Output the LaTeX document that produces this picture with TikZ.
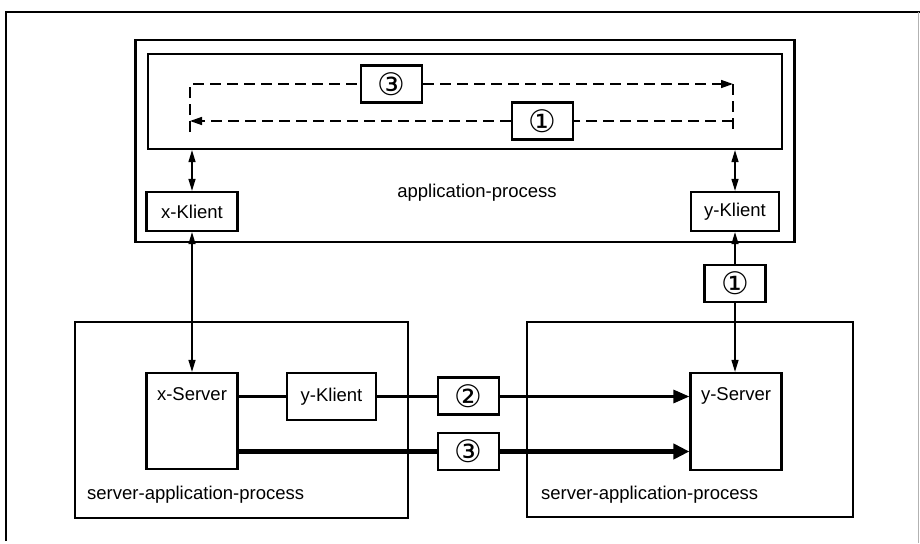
\documentclass[tikz,border=0pt]{standalone}
\usepackage{fontspec}
\setmainfont{Liberation Sans}
\newfontfamily\circfont{DejaVu Sans}
\usetikzlibrary{arrows.meta, positioning, calc}

\begin{document}
\begin{tikzpicture}[
  x=1pt, y=-1pt,
  box/.style={rectangle, draw, line width=2.2pt, fill=white, inner sep=0pt, font=\fontsize{18.5}{20}\selectfont},
  proc/.style={rectangle, draw, line width=2.5pt, inner sep=0pt},
  numbox/.style={box, minimum width=61pt, minimum height=37pt, font=\circfont\fontsize{31}{32}\selectfont},
  txt/.style={inner sep=0pt, font=\fontsize{18.5}{20}\selectfont},
  dashline/.style={line width=1.5pt, dash pattern=on 11pt off 6pt},
  dasharrow/.style={dashline, -{Triangle[length=12pt, width=8pt]}},
  biarrow/.style={{Triangle[length=12pt, width=7pt]}-{Triangle[length=12pt, width=7pt]}, line width=1.3pt},
  arrow/.style={-{Triangle[length=12pt, width=7pt]}, line width=1.3pt},
  linktwo/.style={line width=3pt},
  linkthree/.style={line width=5pt},
  arrowtwo/.style={linktwo, -{Triangle[length=16pt, width=13pt]}},
  arrowthree/.style={linkthree, -{Triangle[length=16pt, width=15pt]}}
]
  \useasboundingbox (0,0) rectangle (920,543);

  % frame
  \draw[line width=2.2pt] (6,541) -- (6,12) -- (930,12);
  \draw[line width=0.8pt, black!30] (918,12) -- (918,543);

  % application-process
  \node[proc, minimum width=659pt, minimum height=202pt] (app) at (465,141) {};
  \node[box, minimum width=634pt, minimum height=95pt] (inner) at (465,101.5) {};
  \node[txt] (apptxt) at (477,193) {application-process};
  \node[box, minimum width=91pt, minimum height=39pt] (xkl) at (192,211.5) {x-Klient};
  \node[box, minimum width=88pt, minimum height=39pt] (ykl) at (735,211.5) {y-Klient};

  % dashed flows inside
  \node[numbox] (top3) at (391.5,84) {③};
  \node[numbox] (top1) at (542.5,121) {①};
  \coordinate (lft) at (190,132);
  \coordinate (rgt) at (733,130);
  \draw[dashline] (lft) |- (top3.west);
  \draw[dasharrow] (top3.east) -- (top3.east -| rgt);
  \draw[dashline] (top3.east -| rgt) -- (rgt);
  \draw[dashline] (top1.east -| rgt) -- (top1.east);
  \draw[dasharrow] (top1.west) -- (top1.west -| lft);

  \draw[biarrow] (xkl.north |- inner.south) -- (xkl.north);
  \draw[biarrow] (ykl.north |- inner.south) -- (ykl.north);

  % server-application-processes
  \node[proc, minimum width=333pt, minimum height=196pt] (lsap) at (241.5,420) {};
  \node[proc, minimum width=326pt, minimum height=195pt] (rsap) at (690,419.5) {};
  \node[txt, anchor=west] (lsaptxt) at (87,495) {server-application-process};
  \node[txt, anchor=west] (rsaptxt) at (541,495) {server-application-process};

  \node[box, minimum width=91pt, minimum height=96pt] (xsrv) at (192,421) {};
  \node[txt, below=15pt of xsrv.north] (xsrvtxt) {x-Server};
  \node[box, minimum width=91pt, minimum height=97pt] (ysrv) at (736,421.5) {};
  \node[txt, below=15pt of ysrv.north] (ysrvtxt) {y-Server};
  \node[box, minimum width=89pt, minimum height=47pt] (ykl2) at (331.5,396.5) {y-Klient};
  \node[numbox] (mid2) at (468.5,396) {②};
  \node[numbox] (mid3) at (468.5,451.5) {③};
  \node[numbox, below=32pt of ykl] (low1) {①};

  % connectors
  \draw[biarrow] (xkl.south) -- (xsrv.north);
  \draw[arrow] (low1.north) -- (ykl.south);
  \draw[arrow] (low1.south) -- (low1.south |- ysrv.north);

  \draw[linktwo] (ykl2.west -| xsrv.east) -- (ykl2.west);
  \draw[linktwo] (ykl2.east) -- (ykl2.east -| mid2.west);
  \draw[arrowtwo] (ykl2.east -| mid2.east) -- (ykl2.east -| ysrv.west);
  \draw[linkthree] (mid3.west -| xsrv.east) -- (mid3.west);
  \draw[arrowthree] (mid3.east) -- (mid3.east -| ysrv.west);
\end{tikzpicture}
\end{document}
